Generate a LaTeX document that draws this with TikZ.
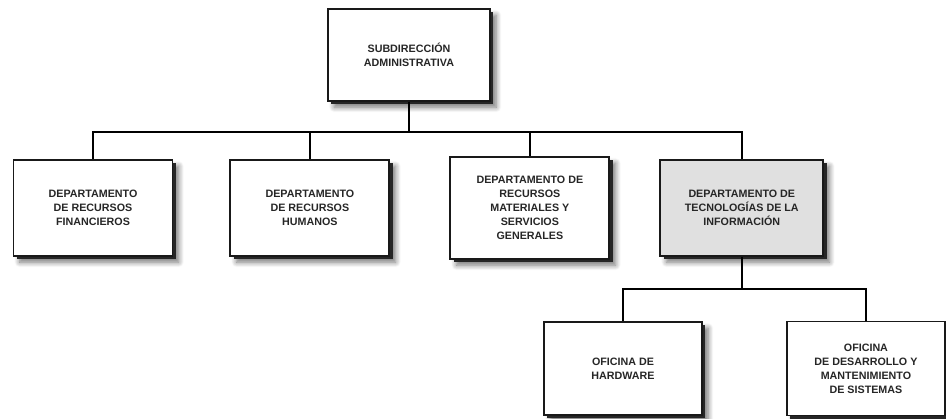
\documentclass[tikz,border=0pt]{standalone}
\usepackage{fontspec}
\setmainfont{Liberation Sans}
\usetikzlibrary{positioning,shadows,shadows.blur}
\definecolor{tigray}{RGB}{224,224,224}
\tikzset{
  unit/.style={draw=black!90,line width=1.1pt,fill=white,align=center,inner sep=2pt,
    font=\fontsize{6.1}{8}\selectfont\bfseries,text=black!85,
    blur shadow={shadow xshift=3.5pt,shadow yshift=-3.5pt,shadow blur radius=3pt,shadow blur steps=8,shadow opacity=55},
    drop shadow={shadow xshift=1.9pt,shadow yshift=-1.9pt,fill=black!85,opacity=1}},
  rowunit/.style={unit,minimum width=3.18cm,minimum height=1.92cm},
  tiunit/.style={rowunit,fill=tigray},
  link/.style={line width=0.9pt,draw=black},
}
\begin{document}
\begin{tikzpicture}
\useasboundingbox (0,0) rectangle (18.92,8.36);

\node[unit,minimum width=3.24cm,minimum height=1.84cm] (sub) at (8.18,7.26) {SUBDIRECCIÓN\\ADMINISTRATIVA};

\node[rowunit] (fin) at (1.86,4.2) {DEPARTAMENTO\\DE RECURSOS\\FINANCIEROS};
\node[rowunit,right=11.2mm of fin] (hum) {DEPARTAMENTO\\DE RECURSOS\\HUMANOS};
\node[rowunit,minimum height=2.04cm,right=11.8mm of hum] (mat) {DEPARTAMENTO DE\\RECURSOS\\MATERIALES Y\\SERVICIOS\\GENERALES};
\node[tiunit,minimum width=3.26cm,right=9.8mm of mat] (tic) {DEPARTAMENTO DE\\TECNOLOGÍAS DE LA\\INFORMACIÓN};

\node[unit,minimum width=3.16cm,minimum height=1.86cm] (hw) at (12.46,0.99) {OFICINA DE\\HARDWARE};
\node[unit,minimum width=3.16cm,minimum height=1.88cm,right=16.6mm of hw] (dev) {OFICINA\\DE DESARROLLO Y\\MANTENIMIENTO\\DE SISTEMAS};

\foreach \n in {fin,hum,mat,tic}
  \draw[link] (sub.south) -- ++(0,-0.6) -| (\n.north);
\foreach \n in {hw,dev}
  \draw[link] (tic.south) -- ++(0,-0.64) -| (\n.north);
\end{tikzpicture}
\end{document}
